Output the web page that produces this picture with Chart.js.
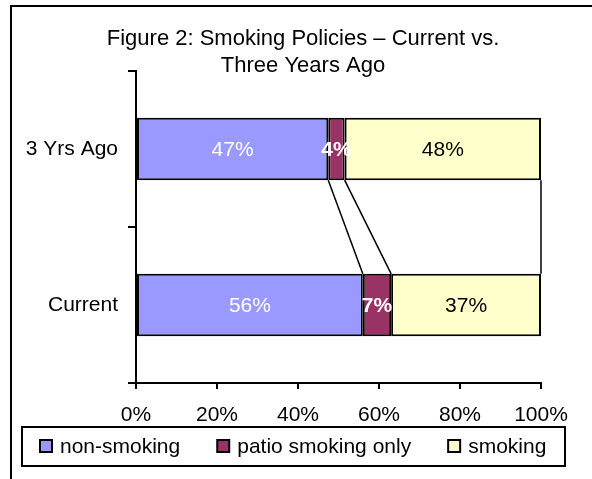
<!DOCTYPE html>
<html>
<head>
<meta charset="utf-8">
<title>Smoking Policies</title>
<script src="https://cdn.jsdelivr.net/npm/chart.js@4"></script>
<style>
  html, body { margin: 0; padding: 0; background: #fff; }
  canvas { display: block; }
</style>
</head>
<body>
<canvas id="policyChart" width="592" height="479"></canvas>
<script>
// ─── DATA ────────────────────────────────────────────────
const categories = ['3 Yrs Ago', 'Current'];
const nonSmoking = [47, 56];
const patioSmoking = [4, 7];
const smoking = [48, 37];
const xTicks = [0, 20, 40, 60, 80, 100];
const titleLines = ['Figure 2: Smoking Policies \u2013 Current vs.', 'Three Years Ago'];

const FONT = "'Liberation Sans', Arial, sans-serif";
Chart.defaults.font.family = FONT;
Chart.defaults.font.size = 21;
Chart.defaults.color = '#000';

const series = [
  { label: 'non-smoking', values: nonSmoking, color: '#9999FF', text: '#fff', weight: 'normal' },
  { label: 'patio smoking only', values: patioSmoking, color: '#993366', text: '#fff', weight: 'bold' },
  { label: 'smoking', values: smoking, color: '#FFFFCC', text: '#000', weight: 'normal' },
];

// 100% stacked: each row is scaled to its own total
const totals = categories.map((_, i) => series.reduce((s, d) => s + d.values[i], 0));

const datasets = series.map(s => ({
  label: s.label,
  data: s.values.map((v, i) => v / totals[i] * 100),
  rawValues: s.values,
  labelColor: s.text,
  labelWeight: s.weight,
  backgroundColor: s.color,
  borderColor: '#000',
  borderWidth: 2,
  borderSkipped: false,
  barPercentage: 0.4,
  categoryPercentage: 1,
}));

// ─── PLUGINS ─────────────────────────────────────────────
const seriesLines = {
  id: 'seriesLines',
  afterDatasetsDraw(chart) {
    const ctx = chart.ctx;
    ctx.save();
    ctx.strokeStyle = '#000';
    ctx.lineWidth = 1.5;
    chart.data.datasets.forEach((ds, i) => {
      const bars = chart.getDatasetMeta(i).data;
      for (let k = 0; k < bars.length - 1; k++) {
        const a = bars[k], b = bars[k + 1];
        ctx.beginPath();
        ctx.moveTo(a.x, a.y + a.height / 2);
        ctx.lineTo(b.x, b.y - b.height / 2);
        ctx.stroke();
      }
    });
    ctx.restore();
  }
};

const valueLabels = {
  id: 'valueLabels',
  afterDatasetsDraw(chart) {
    const ctx = chart.ctx;
    ctx.save();
    ctx.textAlign = 'center';
    ctx.textBaseline = 'middle';
    chart.data.datasets.forEach((ds, i) => {
      ctx.fillStyle = ds.labelColor;
      ctx.font = `${ds.labelWeight} 21px ${FONT}`;
      chart.getDatasetMeta(i).data.forEach((bar, j) => {
        ctx.fillText(ds.rawValues[j] + '%', (bar.x + bar.base) / 2, bar.y + 1);
      });
    });
    ctx.restore();
  }
};

const frameTitleLegend = {
  id: 'frameTitleLegend',
  afterDraw(chart) {
    const ctx = chart.ctx;
    ctx.save();

    // outer frame
    ctx.strokeStyle = '#000';
    ctx.lineWidth = 2;
    ctx.beginPath();
    ctx.moveTo(11, 490);
    ctx.lineTo(11, 6);
    ctx.lineTo(600, 6);
    ctx.stroke();

    // title
    ctx.fillStyle = '#000';
    ctx.font = `22px ${FONT}`;
    ctx.textAlign = 'center';
    ctx.textBaseline = 'alphabetic';
    titleLines.forEach((line, i) => ctx.fillText(line, 303, 45 + i * 27));

    // legend
    ctx.font = `21px ${FONT}`;
    ctx.strokeRect(22, 427, 543, 39);
    ctx.textAlign = 'left';
    let x = 40;
    chart.data.datasets.forEach(ds => {
      ctx.fillStyle = ds.backgroundColor;
      ctx.fillRect(x, 440, 12, 12);
      ctx.lineWidth = 2;
      ctx.strokeRect(x, 440, 12, 12);
      ctx.fillStyle = '#000';
      ctx.fillText(ds.label, x + 20, 453);
      x += 20 + ctx.measureText(ds.label).width + 37;
    });

    ctx.restore();
  }
};

// ─── CHART ───────────────────────────────────────────────
new Chart(document.getElementById('policyChart').getContext('2d'), {
  type: 'bar',
  data: { labels: categories, datasets },
  options: {
    indexAxis: 'y',
    responsive: false,
    devicePixelRatio: 1,
    animation: false,
    layout: { padding: { left: 0, top: 71, right: 51, bottom: 56 } },
    plugins: {
      legend: { display: false },
      title: { display: false },
      tooltip: { enabled: false },
    },
    scales: {
      x: {
        type: 'linear',
        stacked: true,
        min: 0,
        max: 100,
        afterBuildTicks: s => { s.ticks = xTicks.map(v => ({ value: v })); },
        afterFit: s => { s.height = 40; },
        ticks: { callback: v => v + '%', padding: 14, color: '#000' },
        grid: { drawOnChartArea: false, tickLength: 6, color: '#000', lineWidth: 2 },
        border: { color: '#000', width: 2 },
      },
      y: {
        stacked: true,
        afterFit: s => { s.width = 136; },
        ticks: { padding: 10, color: '#000' },
        grid: { offset: true, drawOnChartArea: false, tickLength: 8, color: '#000', lineWidth: 2 },
        border: { color: '#000', width: 2 },
      },
    },
  },
  plugins: [seriesLines, valueLabels, frameTitleLegend],
});
</script>
</body>
</html>
